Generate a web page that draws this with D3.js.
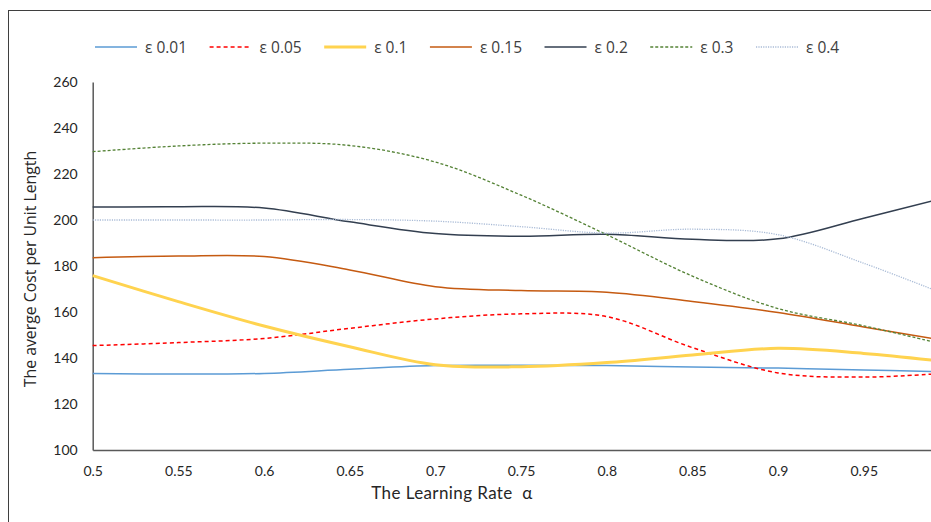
<!DOCTYPE html>
<html>
<head>
<meta charset="utf-8">
<script src="https://cdn.jsdelivr.net/npm/d3@7"></script>
<style>
  html, body { margin: 0; padding: 0; background: #fff; }
  svg { display: block; }
</style>
</head>
<body>
<svg id="chart" width="931" height="522"></svg>
<script>
// ---- data ----
const alphas = [0.5, 0.55, 0.6, 0.65, 0.7, 0.75, 0.8, 0.85, 0.9, 0.95, 0.99];
const seriesNames = ["ε 0.01", "ε 0.05", "ε 0.1", "ε 0.15", "ε 0.2", "ε 0.3", "ε 0.4"];
const eps001 = [133.3, 133.0, 133.3, 135.1, 136.7, 136.8, 136.7, 136.1, 135.6, 134.8, 134.1];
const eps005 = [145.4, 146.7, 148.5, 152.9, 157.0, 159.2, 158.0, 144.5, 133.5, 131.7, 133.0];
const eps01  = [175.8, 164.5, 153.9, 144.9, 137.1, 136.2, 138.0, 141.3, 144.2, 142.0, 139.1];
const eps015 = [183.6, 184.3, 184.1, 178.3, 171.0, 169.3, 168.6, 164.6, 159.8, 153.5, 148.5];
const eps02  = [205.6, 205.8, 205.2, 199.2, 194.1, 192.9, 193.8, 191.6, 191.8, 200.8, 208.3];
const eps03  = [229.7, 232.2, 233.4, 232.4, 225.2, 210.8, 193.6, 175.6, 161.5, 154.0, 147.1];
const eps04  = [200.0, 200.0, 200.0, 200.2, 199.5, 197.1, 194.3, 196.0, 193.6, 181.2, 169.9];
const xTicks = [0.5, 0.55, 0.6, 0.65, 0.7, 0.75, 0.8, 0.85, 0.9, 0.95];
const yTicks = [100, 120, 140, 160, 180, 200, 220, 240, 260];

const seriesValues = [eps001, eps005, eps01, eps015, eps02, eps03, eps04];
const styles = [
  { color: "#5B9BD5", width: 1.5, dash: null },
  { color: "#FF0000", width: 1.5, dash: "4,3" },
  { color: "#FFD34F", width: 3,   dash: null },
  { color: "#C55A11", width: 1.5, dash: null },
  { color: "#333F50", width: 1.5, dash: null },
  { color: "#548235", width: 1.3, dash: "3,2" },
  { color: "#A9BBD6", width: 1.3, dash: "1.2,1.2" }
];

const svg = d3.select("#chart");

// chart frame
svg.append("rect")
  .attr("x", 8.5).attr("y", 10.5)
  .attr("width", 1200).attr("height", 800)
  .attr("fill", "#fff").attr("stroke", "#3f3f3f").attr("stroke-width", 1);

const x = d3.scaleLinear().domain([0.5, 1.0]).range([92.7, 949.4]);
const y = d3.scaleLinear().domain([100, 260]).range([450, 82]);

// axes
const xAxis = d3.axisBottom(x).tickValues(xTicks).tickSize(0).tickPadding(16)
  .tickFormat(d => String(+d.toFixed(2)));
const yAxis = d3.axisLeft(y).tickValues(yTicks).tickSize(0).tickPadding(15);

const gx = svg.append("g").attr("transform", `translate(0,${y(100)})`).call(xAxis);
const gy = svg.append("g").attr("transform", `translate(${x(0.5)},0)`).call(yAxis);
[gx, gy].forEach(g => {
  g.select(".domain").attr("stroke", "#595959").attr("stroke-width", 1.5);
  g.selectAll("text").attr("font-family", "Lato, sans-serif").attr("font-size", 14)
    .attr("fill", "#262626");
});

// lines
const line = d3.line()
  .x((d, i) => x(alphas[i]))
  .y(d => y(d))
  .curve(d3.curveCatmullRom.alpha(0.5));

const plot = svg.append("g");
seriesValues.forEach((vals, k) => {
  plot.append("path")
    .datum(vals)
    .attr("d", line)
    .attr("fill", "none")
    .attr("stroke", styles[k].color)
    .attr("stroke-width", styles[k].width)
    .attr("stroke-dasharray", styles[k].dash)
    .attr("stroke-linecap", "butt");
});

// legend
const legend = svg.append("g");
let lx = 95;
seriesNames.forEach((name, k) => {
  const g = legend.append("g");
  g.append("line")
    .attr("x1", lx).attr("x2", lx + 42)
    .attr("y1", 47).attr("y2", 47)
    .attr("stroke", styles[k].color)
    .attr("stroke-width", styles[k].width)
    .attr("stroke-dasharray", styles[k].dash);
  const t = g.append("text")
    .attr("x", lx + 50).attr("y", 52.5)
    .attr("font-family", "'Open Sans', sans-serif").attr("font-size", 15.5)
    .attr("fill", "#404040")
    .text(name);
  lx = lx + 50 + t.node().getComputedTextLength() + 22.5;
});

// axis titles
svg.append("text")
  .attr("x", 452).attr("y", 499)
  .attr("text-anchor", "middle")
  .attr("font-family", "Lato, sans-serif").attr("font-size", 17)
  .attr("letter-spacing", 0.4)
  .attr("fill", "#262626")
  .text("The Learning Rate \u00A0α");

svg.append("text")
  .attr("transform", "translate(36,269) rotate(-90)")
  .attr("text-anchor", "middle")
  .attr("font-family", "'Open Sans', sans-serif").attr("font-size", 15.8)
  .attr("fill", "#262626")
  .text("The averge Cost per Unit Length");
</script>
</body>
</html>
